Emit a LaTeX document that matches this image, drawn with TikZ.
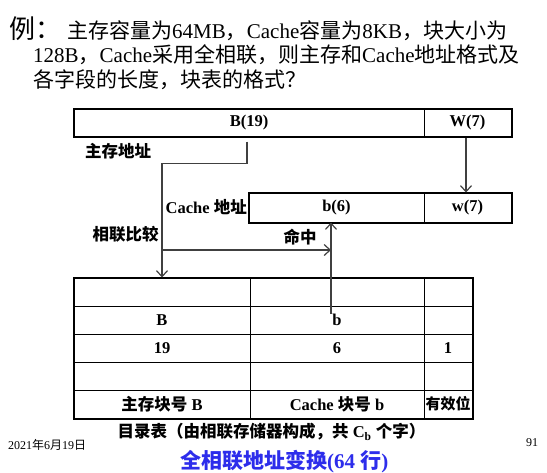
\documentclass[tikz,border=0pt]{standalone}
\usepackage{fontspec}
\setmainfont{Liberation Serif}
\newfontfamily\cjk{Noto Sans CJK SC}
\usetikzlibrary{arrows.meta}
\newcommand\zh[1]{{\cjk #1}}
\definecolor{tblue}{RGB}{45,45,235}
\definecolor{lgray}{RGB}{64,64,64}
\begin{document}
\begin{tikzpicture}[x=1pt,y=-1pt,
  title/.style={inner sep=0pt, font=\fontsize{21}{24}\selectfont},
  lbl/.style={inner sep=0pt, font=\bfseries\fontsize{16.5}{18}\selectfont},
  cell/.style={draw=black, line width=1pt, inner sep=0pt, font=\bfseries\fontsize{16.5}{18}\selectfont},
  outer/.style={draw=black, line width=2pt},
  link/.style={draw=lgray, line width=1.2pt},
  arr/.style={link, -{Straight Barb[length=6pt,width=11pt,line width=1.2pt]}}
]
\useasboundingbox (0,0) rectangle (547,472);

% title
\node[title, anchor=base west, font=\fontsize{26}{28}\selectfont] (l0) at (9,38) {\zh{例：}};
\node[title, anchor=base west] (l1) at (67,38) {\zh{主存容量为}64MB\zh{，}Cache\zh{容量为}8KB\zh{，块大小为}};
\node[title, anchor=base west] (l2) at (33,62.5) {128B\zh{，}Cache\zh{采用全相联，则主存和}Cache\zh{地址格式及}};
\node[title, anchor=base west] (l3) at (33,87) {\zh{各字段的长度，块表的格式？}};

% main memory address
\node[cell, minimum width=350pt, minimum height=27pt] (B19) at (249,122.5) {B(19)};
\node[cell, minimum width=87pt, minimum height=27pt] (W7) at (467.5,122.5) {W(7)};
\draw[outer] (B19.north west) rectangle (W7.south east);
\node[lbl] (mainaddr) at (118,151) {\zh{主存地址}};

% cache address
\node[cell, minimum width=175pt, minimum height=29pt] (b6) at (336.5,207.5) {b(6)};
\node[cell, minimum width=87pt, minimum height=29pt] (w7c) at (467.5,207.5) {w(7)};
\draw[outer] (b6.north west) rectangle (w7c.south east);
\node[lbl, anchor=east] (cacheaddr) at (247,207) {Cache \zh{地址}};

\node[lbl] (assoc) at (125.5,234) {\zh{相联比较}};
\node[lbl] (hit) at (300,237) {\zh{命中}};

% directory table
\foreach \r/\y in {1/292,2/320,3/348,4/376,5/404}{
  \node[cell, minimum width=176pt, minimum height=28pt] (c\r1) at (162,\y) {};
  \node[cell, minimum width=174pt, minimum height=28pt] (c\r2) at (337,\y) {};
  \node[cell, minimum width=48pt, minimum height=28pt] (c\r3) at (448,\y) {};
}
\draw[outer] (c11.north west) rectangle (c53.south east);
\node[lbl] (tB) at (c21) {B};
\node[lbl] (tb) at (c22) {b};
\node[lbl] (t19) at (c31) {19};
\node[lbl] (t6) at (c32) {6};
\node[lbl] (t1) at (c33) {1};
\node[lbl] (h1) at (c51) {\zh{主存块号} B};
\node[lbl] (h2) at (c52) {Cache \zh{块号} b};
\node[lbl, font=\bfseries\fontsize{15}{17}\selectfont] (h3) at (c53) {\zh{有效位}};

% connectors
\draw[arr] ([xshift=-2pt,yshift=-5pt]B19.south) -- ++(0,22) -| (c11.north);
\draw[arr] ([xshift=-1.5pt,yshift=-1pt]W7.south) -- ([xshift=-1.5pt]w7c.north);
\coordinate (cmp) at (163,250);
\coordinate (hitlow) at (331,314);
\draw[arr] (cmp) -- (cmp -| hitlow);
\draw[arr] (hitlow) -- (hitlow |- b6.south);

% captions
\node[lbl] (dir) at (271.5,432) {\zh{目录表（由相联存储器构成，共} C\textsubscript{b} \zh{个字）}};
\node[inner sep=0pt, anchor=west, font=\fontsize{12}{14}\selectfont] (date) at (8,445) {2021\zh{年}6\zh{月}19\zh{日}};
\node[inner sep=0pt, font=\fontsize{12}{14}\selectfont] (page) at (532,443) {91};
\node[inner sep=0pt, anchor=west, text=tblue, font=\bfseries\fontsize{21}{24}\selectfont] (cap) at (180,462) {\zh{全相联地址变换}(64 \zh{行})};
\end{tikzpicture}
\end{document}
